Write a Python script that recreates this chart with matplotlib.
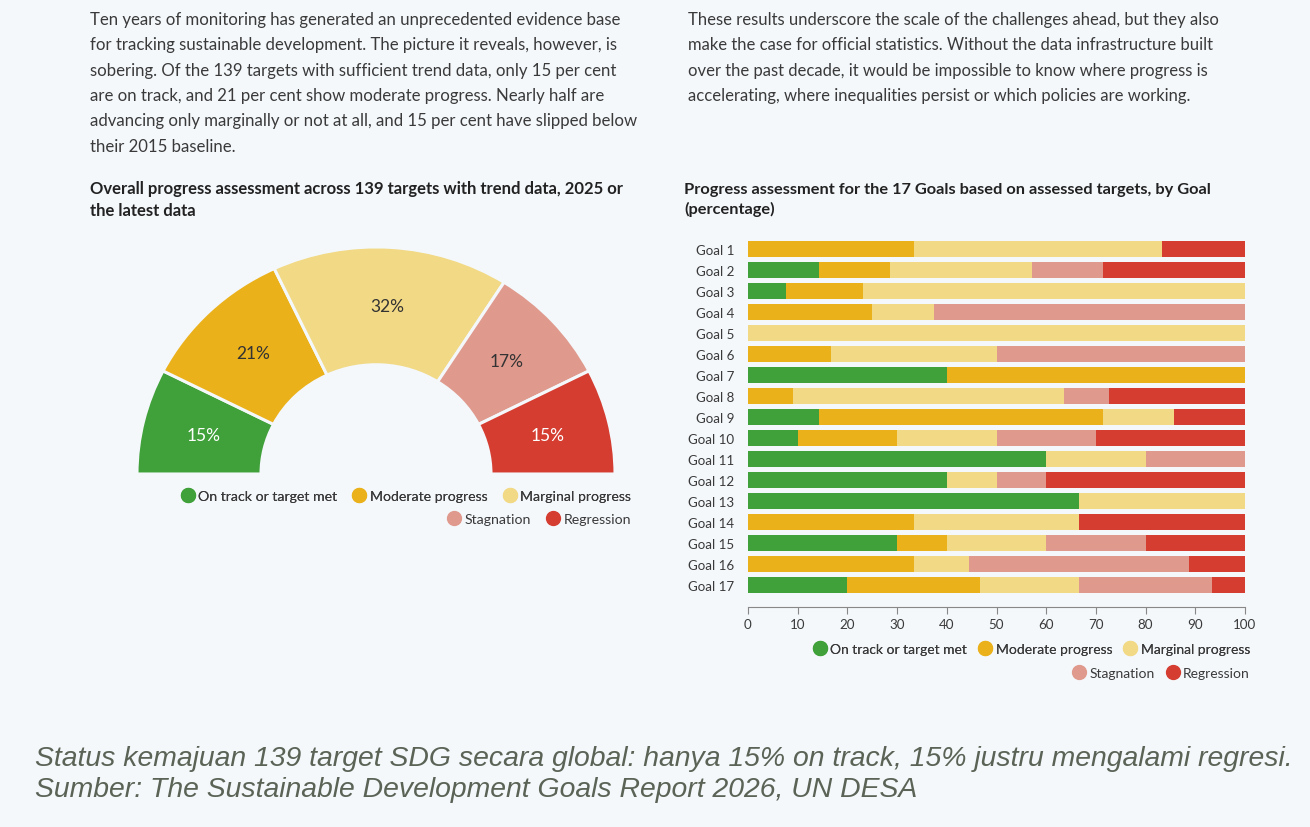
import matplotlib
matplotlib.use("Agg")
import matplotlib.pyplot as plt
from matplotlib.lines import Line2D
import numpy as np

W, H = 1310, 828
bg = "#f4f8fb"

categories = ["On track or target met", "Moderate progress", "Marginal progress",
              "Stagnation", "Regression"]
colors = ["#40a03a", "#ebb11b", "#f2d985", "#e09a8d", "#d53d31"]

# overall share of the 139 targets (%)
overall_pct = [15, 21, 32, 17, 15]

goals = [f"Goal {i}" for i in range(1, 18)]
on_track = [0, 14.3, 7.7, 0, 0, 0, 40, 0, 14.3, 10, 60, 40, 66.7, 0, 30, 0, 20]
moderate = [33.3, 14.3, 15.4, 25, 0, 16.7, 60, 9.1, 57.1, 20, 0, 0, 0, 33.3, 10, 33.3, 26.7]
marginal = [50, 28.6, 76.9, 12.5, 100, 33.3, 0, 54.5, 14.3, 20, 20, 10, 33.3, 33.3, 20, 11.1, 20]
stagnation = [0, 14.3, 0, 62.5, 0, 50, 0, 9.1, 0, 20, 20, 10, 0, 0, 20, 44.4, 26.7]
regression = [16.7, 28.6, 0, 0, 0, 0, 0, 27.3, 14.3, 30, 0, 40, 0, 33.3, 20, 11.1, 6.7]
x_ticks = list(range(0, 101, 10))

para_left = ("Ten years of monitoring has generated an unprecedented evidence base\n"
             "for tracking sustainable development. The picture it reveals, however, is\n"
             "sobering. Of the 139 targets with sufficient trend data, only 15 per cent\n"
             "are on track, and 21 per cent show moderate progress. Nearly half are\n"
             "advancing only marginally or not at all, and 15 per cent have slipped below\n"
             "their 2015 baseline.")
para_right = ("These results underscore the scale of the challenges ahead, but they also\n"
              "make the case for official statistics. Without the data infrastructure built\n"
              "over the past decade, it would be impossible to know where progress is\n"
              "accelerating, where inequalities persist or which policies are working.")
title_left = ("Overall progress assessment across 139 targets with trend data, 2025 or\n"
              "the latest data")
title_right = ("Progress assessment for the 17 Goals based on assessed targets, by Goal\n"
               "(percentage)")
caption_1 = "Status kemajuan 139 target SDG secara global: hanya 15% on track, 15% justru mengalami regresi."
caption_2 = "Sumber: The Sustainable Development Goals Report 2026, UN DESA"

plt.rcParams["font.family"] = ["Lato", "DejaVu Sans"]
text_col = "#3a3a3a"

fig = plt.figure(figsize=(W / 100, H / 100), dpi=100, facecolor=bg)


def px_axes(left, top, right, bottom):
    return fig.add_axes([left / W, 1 - bottom / H, (right - left) / W, (bottom - top) / H])


def fx(x):
    return x / W


def fy(y):
    return 1 - y / H


# paragraphs and titles
fig.text(fx(90), fy(12), para_left, fontsize=12.1, color=text_col, va="top", linespacing=1.72)
fig.text(fx(688), fy(12), para_right, fontsize=12.0, color=text_col, va="top", linespacing=1.72)
fig.text(fx(90), fy(181), title_left, fontsize=12.0, fontweight="bold", color="#222222",
         va="top", linespacing=1.45)
fig.text(fx(684), fy(183), title_right, fontsize=11.8, fontweight="bold", color="#222222",
         va="top", linespacing=1.45)

# half donut (slightly wider than tall, as in the source)
ax_d = px_axes(116, 230, 636, 490)
ax_d.set_facecolor("none")
vals = overall_pct + [sum(overall_pct)]
wedges, texts = ax_d.pie(vals, radius=239, startangle=180, counterclock=False,
                         colors=colors + ["none"],
                         labels=[f"{v}%" for v in overall_pct] + [""],
                         labeldistance=177 / 239,
                         wedgeprops=dict(width=124, edgecolor=bg, linewidth=2.2),
                         textprops=dict(fontsize=12.5))
wedges[-1].set_visible(False)
for i, t in enumerate(texts):
    t.set_ha("center")
    t.set_va("center")
    t.set_color("white" if i in (0, 4) else "#333333")
ax_d.set_aspect("auto")
ax_d.set_xlim(-260, 260)
ax_d.set_ylim(-15.8, 257.9)
ax_d.axis("off")

# stacked bars
ax_b = px_axes(748, 240, 1245, 608)
ax_b.set_facecolor("none")
y = np.arange(len(goals))
left = np.zeros(len(goals))
for vals_s, c in zip([on_track, moderate, marginal, stagnation, regression], colors):
    ax_b.barh(y, vals_s, left=left, height=0.8, color=c)
    left += np.array(vals_s)
ax_b.set_xlim(0, 100)
ax_b.set_ylim(17.05, -0.48)
ax_b.set_yticks(y, goals)
ax_b.set_xticks(x_ticks)
ax_b.tick_params(axis="y", length=0, pad=10, labelsize=9.6, labelcolor=text_col)
ax_b.tick_params(axis="x", length=5, color="#888888", pad=3, labelsize=9.6, labelcolor=text_col)
for s in ["top", "right", "left"]:
    ax_b.spines[s].set_visible(False)
ax_b.spines["bottom"].set_color("#888888")


def legend_rows(x_right, y1, y2, fs, colspace):
    handles = [Line2D([], [], marker="o", ls="", markersize=10, markerfacecolor=c,
                      markeredgecolor=c) for c in colors]
    kw = dict(frameon=False, handletextpad=0.3, columnspacing=colspace, handlelength=0.9,
              borderaxespad=0, borderpad=0, fontsize=fs, loc="center right",
              labelcolor=text_col)
    l1 = fig.legend(handles[:3], categories[:3], ncol=3,
                    bbox_to_anchor=(fx(x_right), fy(y1)), **kw)
    fig.add_artist(l1)
    fig.legend(handles[3:], categories[3:], ncol=2,
               bbox_to_anchor=(fx(x_right), fy(y2)), **kw)


legend_rows(631, 497, 520, 10.2, 1.1)
legend_rows(1250, 650, 674, 10, 0.85)

# caption
cap_kw = dict(fontsize=20.4, style="italic", color="#5a6356",
              family=["Liberation Sans", "DejaVu Sans"], va="baseline")
fig.text(fx(35), fy(766), caption_1, **cap_kw)
fig.text(fx(35), fy(797), caption_2, **cap_kw)

fig.savefig("out.png", dpi=100, facecolor=bg)
